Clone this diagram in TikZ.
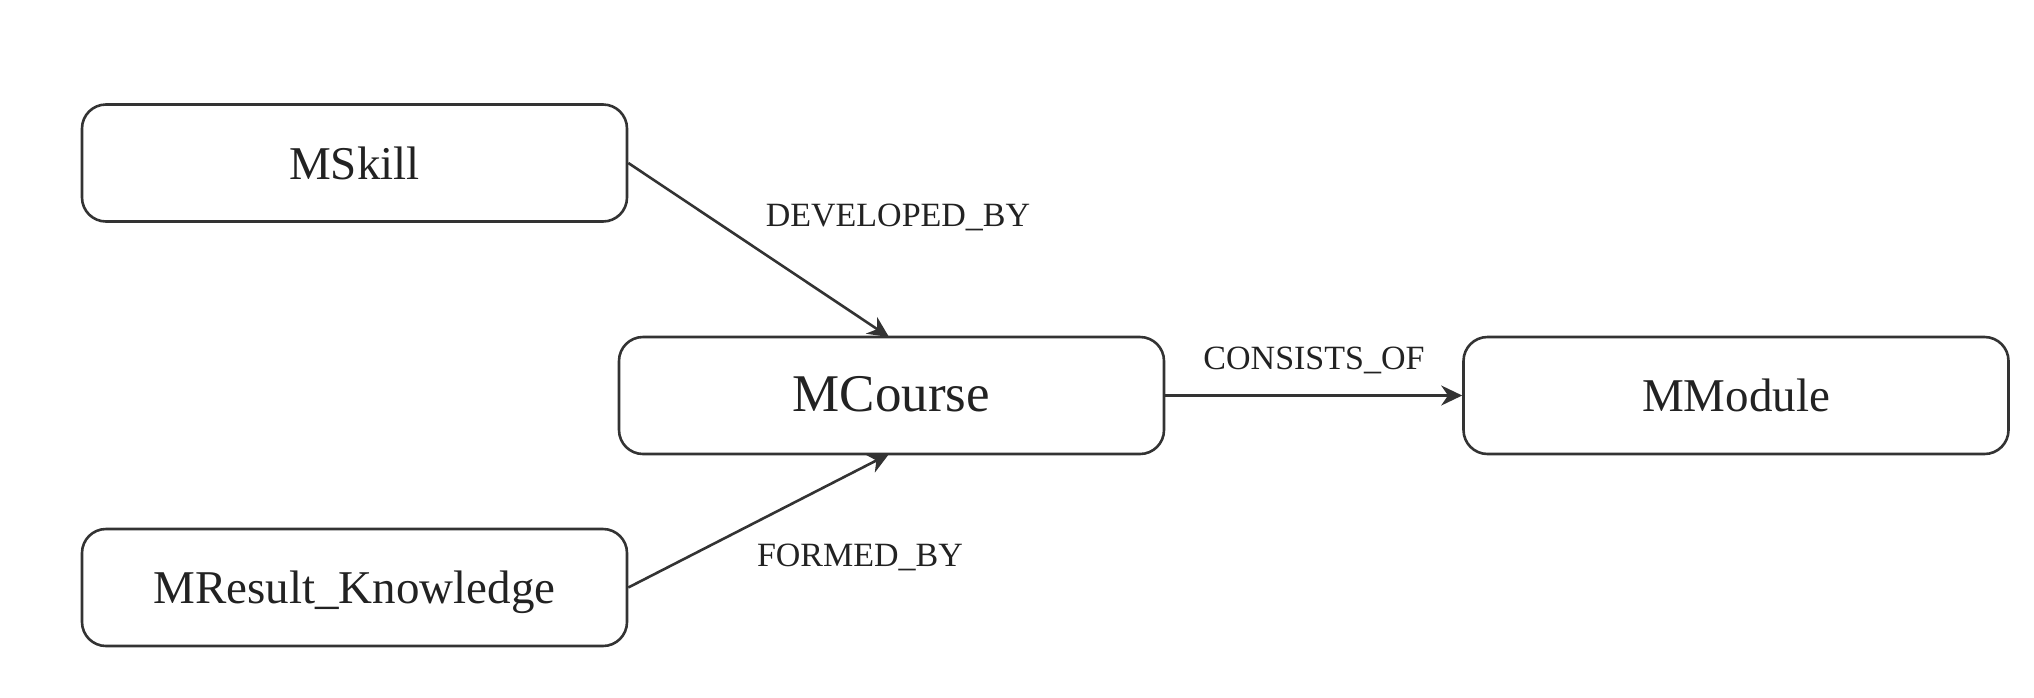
\documentclass[tikz,border=0pt]{standalone}
\usepackage{fontspec}
\setmainfont{Liberation Serif}
\usetikzlibrary{arrows.meta}
\definecolor{ln}{HTML}{333333}
\definecolor{tx}{HTML}{222222}
\begin{document}
\begin{tikzpicture}[x=1pt,y=-1pt,
  ent/.style={draw=ln, line width=2.6pt, rounded corners=24pt, minimum width=545pt, minimum height=117pt, inner sep=0pt, text=tx, font=\fontsize{47}{56}\selectfont, text depth=0pt},
  rel/.style={draw=ln, line width=2.6pt, -{Stealth[length=21pt,width=20pt]}},
  lab/.style={text=tx, font=\fontsize{34}{40}\selectfont, inner sep=0pt}]
\useasboundingbox (0,0) rectangle (2034,697);
\node[ent] (skill) at (354.5,163) {MSkill};
\node[ent, font=\fontsize{53}{62}\selectfont] (course) at (891.5,395.5) {\raisebox{3pt}{MCourse}};
\node[ent] (module) at (1736,395.5) {MModule};
\node[ent] (result) at (354.5,587.5) {MResult\_Knowledge};
\coordinate (ctop) at (889,337);
\coordinate (cbot) at (889,454);
\draw[rel] (skill.east) -- (ctop);
\draw[rel] (result.east) -- (cbot);
\draw[rel] (course.east) -- (module.west);
\node[lab] (l1) at (898,217) {DEVELOPED\_BY};
\node[lab] (l2) at (1314,360) {CONSISTS\_OF};
\node[lab] (l3) at (860,557) {FORMED\_BY};
\end{tikzpicture}
\end{document}
